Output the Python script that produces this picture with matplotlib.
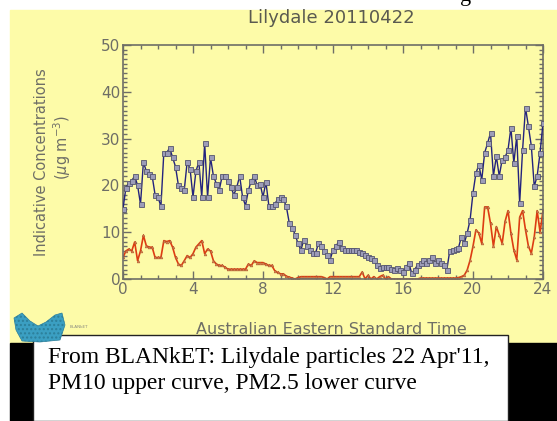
import numpy as np
import matplotlib
matplotlib.use('Agg')
from matplotlib import pyplot as plt
from matplotlib.patches import Rectangle, Polygon
from matplotlib.ticker import MultipleLocator

# 10-minute readings, one row per hour, last value at 24:00
pm10 = [15, 19.5, 20.5, 21, 22, 20,
        16, 25, 23, 22.5, 22, 18,
        17.5, 15.5, 27, 27, 28, 26,
        24, 20, 19.5, 19, 25, 23.5,
        17.5, 23, 25, 17.5, 29, 17.5,
        26, 22, 20.4, 19, 22, 22,
        21, 19.6, 18, 19.6, 22, 17.5,
        15.7, 19, 21, 22, 20, 20.4,
        17.5, 20.7, 15.7, 15.7, 16, 17,
        17.5, 17, 15.5, 12, 11, 9.5,
        7.6, 6.2, 8.4, 7, 6.2, 5.5,
        5.5, 7.6, 7, 5.9, 5.1, 4.1,
        6.2, 7, 8, 6.6, 6.2, 6.2,
        6.2, 6.2, 6.2, 5.8, 5.5, 5.2,
        4.8, 4.4, 4.1, 3, 2.3, 2.6,
        2.6, 2.6, 2.2, 1.9, 2.3, 2,
        1.6, 2.5, 3.4, 1.2, 2, 3,
        3.4, 4.1, 3.4, 4, 4.8, 3.4,
        4.1, 3.5, 3, 1.9, 5.9, 6.2,
        6.4, 6.6, 9, 7.6, 9.8, 12.6,
        18.4, 22.6, 24.4, 21.2, 27, 29,
        31.2, 22, 26.2, 22, 25.5, 26,
        27.6, 32.3, 24.8, 30.5, 16.2, 27.6,
        36.6, 32.6, 28.4, 19.8, 22, 27,
        33.4]

pm25 = [4.6, 6, 6.4, 6, 7.9, 3.9,
        6, 9.3, 7.1, 6.8, 6.8, 4.6,
        4.6, 4.6, 8.2, 8, 8.2, 6.8,
        4.6, 3.2, 2.9, 3.9, 5, 4.6,
        5.4, 6.8, 7.5, 8.2, 5.4, 6.4,
        6, 3.9, 3.2, 2.9, 2.9, 2.5,
        2.1, 2.1, 2.1, 2.1, 2.1, 2.1,
        2.1, 3.2, 2.9, 3.9, 3.5, 3.5,
        3.5, 3.2, 2.9, 2.9, 1.8, 1.4,
        1.1, 1.1, 0.6, 0.4, 0.2, 0,
        0.3, 0.5, 0.5, 0.5, 0.5, 0.5,
        0.5, 0.5, 0.5, 0.3, 0, 0.5,
        0.5, 0.5, 0.5, 0.5, 0.5, 0.5,
        0.5, 0.5, 0.5, 0.5, 1.5, 0,
        0.8, 0, 0.5, 0, 0.5, 0.8,
        0, 0.5, 0, 0, 0, 0,
        0, 0, 0, 0, 0, 0,
        0.2, 0.2, 0.2, 0.2, 0.2, 0.2,
        0.2, 0.2, 0.2, 0.2, 0.2, 0.2,
        0.2, 0.3, 0.5, 0.8, 1.9, 4,
        7, 10.5, 9.8, 7.6, 15.4, 15.4,
        11.9, 7, 11.2, 9.4, 7.6, 12.3,
        14.6, 9.8, 6.2, 4.1, 13.2, 14.6,
        10.5, 7, 5.5, 9, 14.6, 10,
        14.6]

hours = np.arange(len(pm10)) / 6.0
xticks = [0, 4, 8, 12, 16, 20, 24]
yticks = [0, 10, 20, 30, 40, 50]

title = 'Lilydale 20110422'
xlabel = 'Australian Eastern Standard Time'
ylabel1 = 'Indicative Concentrations'
ylabel2 = r'($\mu$g m$^{-3}$)'
caption1 = "From BLANkET: Lilydale particles 22 Apr'11,"
caption2 = 'PM10 upper curve, PM2.5 lower curve'

W, H = 557, 421
yellow = '#fdfba8'
grey = '#6e6e66'


def fx(x):
    return x / W


def fy(y):
    return 1 - y / H


fig = plt.figure(figsize=(W / 100, H / 100), dpi=100)
fig.patch.set_facecolor('white')

# page background pieces
fig.patches.append(Rectangle((fx(10), fy(343)), fx(W - 10), (333) / H,
                             transform=fig.transFigure, color=yellow, zorder=-3))
fig.patches.append(Rectangle((fx(10), 0), fx(W - 10), (421 - 343) / H,
                             transform=fig.transFigure, color='black', zorder=-3))
fig.patches.append(Rectangle((fx(33), 0), fx(508 - 33), (421 - 335) / H,
                             transform=fig.transFigure, facecolor='white',
                             edgecolor='#222222', lw=1, zorder=-2))
# logo blob
logo = [(14, 318), (22, 313), (30, 321), (38, 326), (46, 322), (55, 315),
        (62, 313), (65, 325), (60, 340), (40, 342), (22, 341), (16, 330)]
fig.patches.append(Polygon([(fx(a), fy(b)) for a, b in logo], closed=True,
                           transform=fig.transFigure, facecolor='#3b9fc2',
                           edgecolor='#2c7f9a', hatch='....', lw=0.5, zorder=-1))
fig.text(fx(70), fy(327), 'BLANkET', fontsize=3, color='#8a8a80', va='center')

ax = fig.add_axes([fx(123), fy(279), fx(543 - 123), (279 - 45) / H])
ax.set_zorder(2)
ax.set_facecolor(yellow)

ax.plot(hours, pm25, color='#dd3c12', lw=1.2, marker='^', ms=2,
        mfc='#d98050', mec='#b05a30', mew=0.4, zorder=2)
ax.plot(hours, pm10, color='#23237e', lw=1.0, marker='s', ms=3.6,
        mfc='#9c9cb8', mec='#55556e', mew=0.6, zorder=3)

ax.set_xlim(0, 24)
ax.set_ylim(0, 50)
ax.set_xticks(xticks)
ax.set_yticks(yticks)
ax.xaxis.set_minor_locator(MultipleLocator(1))
ax.yaxis.set_minor_locator(MultipleLocator(1))
ax.tick_params(which='both', direction='in', top=True, right=True,
               color=grey, width=1, labelsize=11, labelcolor=grey)
ax.tick_params(which='major', length=6, pad=2)
ax.tick_params(which='minor', length=3)
for s in ax.spines.values():
    s.set_color(grey)
    s.set_linewidth(1.2)

fig.text(fx(331), fy(18), title, fontsize=13, color='#5a5a50',
         ha='center', va='center')
fig.text(fx(331), fy(329), xlabel, fontsize=11.5, color=grey,
         ha='center', va='center')
fig.text(fx(42), fy(162), ylabel1, fontsize=10.5, color=grey,
         ha='center', va='center', rotation=90)
fig.text(fx(62), fy(147), ylabel2, fontsize=10.5, color=grey,
         ha='center', va='center', rotation=90)

fig.text(fx(48), fy(357), caption1, fontsize=17, family='Liberation Serif',
         color='black', va='center', zorder=3)
fig.text(fx(48), fy(384), caption2, fontsize=17, family='Liberation Serif',
         color='black', va='center', zorder=3)
# cut-off text from page above
fig.text(fx(466), fy(-4), 'g', fontsize=16, family='Liberation Serif',
         color='black', ha='center', va='center')

fig.savefig('out.png', dpi=100)
